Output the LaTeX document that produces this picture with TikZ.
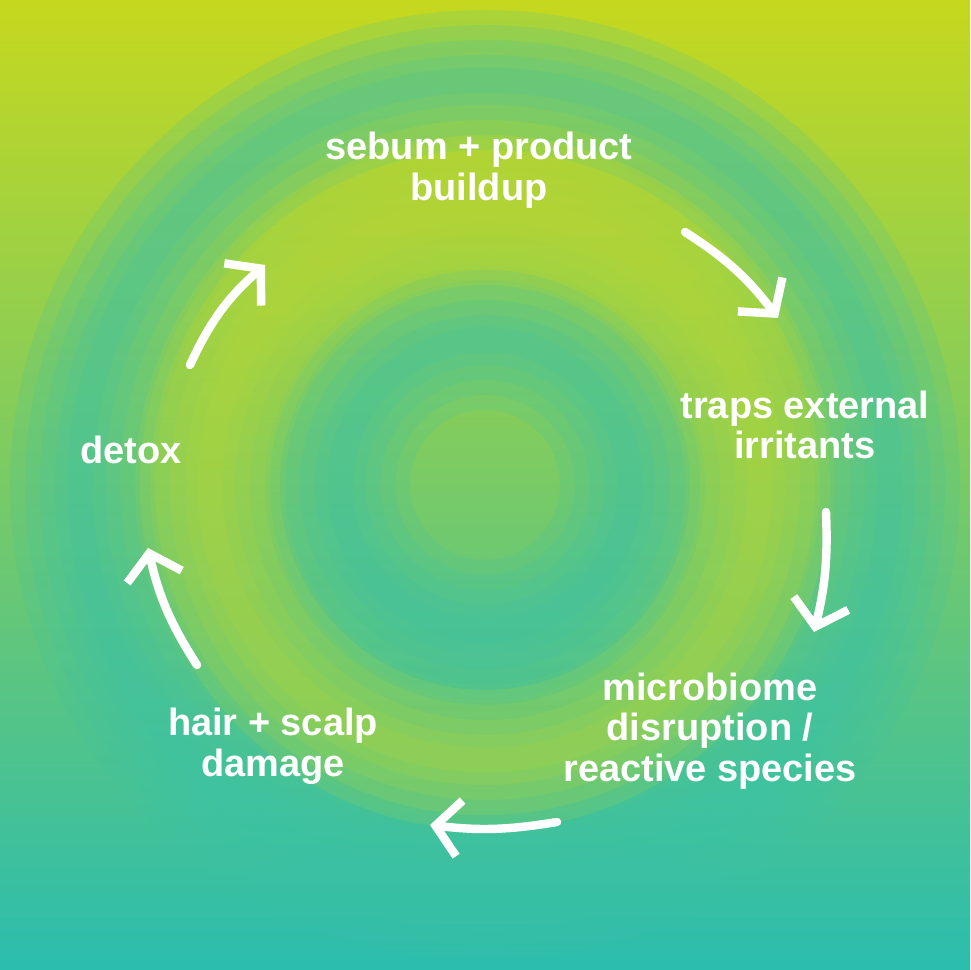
\documentclass[tikz,border=0pt]{standalone}
\usepackage{fontspec}
\setmainfont{Liberation Sans}
\usetikzlibrary{arrows.meta}
\definecolor{lime}{HTML}{C6D81E}
\definecolor{teal2}{HTML}{2BBDAE}
\definecolor{tealring}{HTML}{3CC2A8}
\definecolor{yelring}{HTML}{BCD934}
\tikzset{
  lbl/.style={text=white, font=\bfseries\fontsize{10.8}{11.6}\selectfont, align=center},
  cyc/.style={white, line width=2.4pt, line cap=round, line join=round,
    -{Straight Barb[length=2.4mm,width=5.6mm,line width=2.4pt]}},
}
\begin{document}
\begin{tikzpicture}
	%\clip (0,0) rectangle (9.7,9.7);
	\shade[top color=lime, bottom color=teal2] (0,0) rectangle (9.7,9.7);
	\useasboundingbox (0,0) rectangle (9.7,9.7);
	% soft rings
	\foreach \w in {1.4,1.1,0.8,0.5,0.25} {
		\draw[tealring, opacity=0.18, line width=\w cm] (4.85,4.85) circle (4.05);
		\draw[tealring, opacity=0.18, line width=\w cm] (4.85,4.85) circle (1.45);
		\draw[yelring, opacity=0.16, line width=\w cm] (4.85,4.85) circle (2.75);
	}
	\node[lbl] (sebum) at (4.79,8.0) {sebum + product\\buildup};
	\node[lbl] (traps) at (8.05,5.45) {traps external\\irritants};
	\node[lbl] (micro) at (7.10,2.39) {microbiome\\disruption /\\reactive species};
	\node[lbl] (hair) at (2.73,2.24) {hair + scalp\\damage};
	\node[lbl] (detox) at (1.31,5.2) {detox};
	\coordinate (a1) at (1.90,6.05); \coordinate (b1) at (2.65,7.05);
	\coordinate (a2) at (6.85,7.38); \coordinate (b2) at (7.78,6.52);
	\coordinate (a3) at (8.26,4.58); \coordinate (b3) at (8.14,3.38);
	\coordinate (a4) at (5.57,1.48); \coordinate (b4) at (4.30,1.45);
	\coordinate (a5) at (1.97,3.05); \coordinate (b5) at (1.48,4.22);
	\draw[cyc] (a1) to[bend left=12] (b1);
	\draw[cyc] (a2) to[bend left=10] (b2);
	\draw[cyc] (a3) to[bend left=8] (b3);
	\draw[cyc] (a4) to[bend left=8] (b4);
	\draw[cyc] (a5) to[bend left=10] (b5);
\end{tikzpicture}
\end{document}
